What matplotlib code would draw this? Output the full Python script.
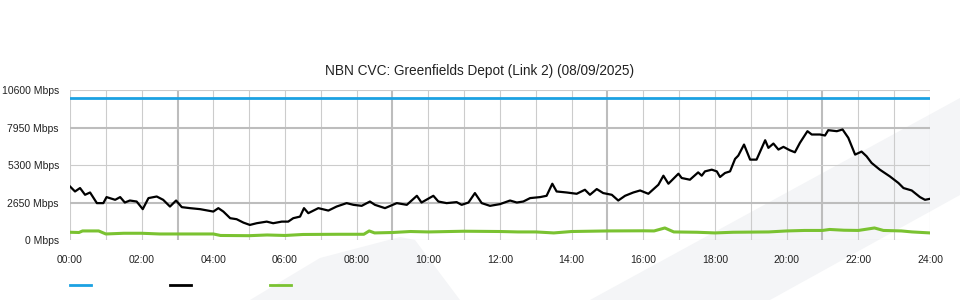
import numpy as np
import matplotlib.pyplot as plt
from matplotlib.lines import Line2D
from matplotlib.patches import Polygon

title = "NBN CVC: Greenfields Depot (Link 2) (08/09/2025)"

y_ticks = [0, 2650, 5300, 7950, 10600]
y_labels = ["0 Mbps", "2650 Mbps", "5300 Mbps", "7950 Mbps", "10600 Mbps"]
x_ticks = [0, 2, 4, 6, 8, 10, 12, 14, 16, 18, 20, 22, 24]
x_labels = ["00:00", "02:00", "04:00", "06:00", "08:00", "10:00", "12:00",
            "14:00", "16:00", "18:00", "20:00", "22:00", "24:00"]

# capacity (blue)
capacity_hours = [0, 24]
capacity_mbps = [10000, 10000]

# download traffic (black)
down_hours = [0.00, 0.14, 0.28, 0.42, 0.56, 0.75, 0.93, 1.02, 1.26, 1.40, 1.53, 1.67,
              1.86, 2.03, 2.19, 2.42, 2.60, 2.79, 2.96, 3.12, 3.35, 3.63, 4.00, 4.14,
              4.28, 4.47, 4.65, 4.84, 5.02, 5.21, 5.49, 5.67, 5.91, 6.09, 6.23, 6.42,
              6.53, 6.65, 6.93, 7.21, 7.44, 7.72, 7.91, 8.14, 8.37, 8.51, 8.79, 9.12,
              9.40, 9.68, 9.81, 10.14, 10.28, 10.51, 10.79, 10.93, 11.12, 11.30, 11.49,
              11.72, 12.00, 12.28, 12.47, 12.65, 12.84, 13.12, 13.30, 13.46, 13.58,
              13.86, 14.14, 14.37, 14.51, 14.70, 14.88, 15.12, 15.30, 15.49, 15.72,
              15.91, 16.14, 16.42, 16.56, 16.70, 16.98, 17.07, 17.30, 17.53, 17.63,
              17.72, 17.91, 18.05, 18.14, 18.28, 18.42, 18.56, 18.65, 18.81, 18.98,
              19.16, 19.40, 19.49, 19.63, 19.77, 19.91, 20.09, 20.23, 20.37, 20.58,
              20.70, 20.93, 21.07, 21.16, 21.40, 21.56, 21.72, 21.91, 22.09, 22.23,
              22.37, 22.60, 22.88, 23.12, 23.26, 23.49, 23.72, 23.86, 24.00]
down_mbps = [3784, 3429, 3671, 3195, 3358, 2606, 2606, 3032, 2840, 3032, 2648, 2790,
             2719, 2180, 2961, 3074, 2840, 2364, 2790, 2322, 2251, 2180, 2009, 2251,
             2009, 1541, 1470, 1228, 1065, 1186, 1299, 1186, 1299, 1299, 1541, 1654,
             2251, 1896, 2251, 2080, 2364, 2606, 2485, 2414, 2719, 2485, 2251, 2606,
             2485, 3124, 2648, 3124, 2719, 2606, 2677, 2485, 2648, 3316, 2606,
             2414, 2535, 2790, 2648, 2719, 2961, 3032, 3124, 3976, 3429,
             3358, 3266, 3550, 3195, 3600, 3316, 3195, 2790, 3124, 3358,
             3500, 3266, 3905, 4544, 3976, 4686, 4381, 4260, 4778, 4544,
             4849, 4970, 4849, 4452, 4736, 4849, 5730, 5964, 6745, 5680,
             5680, 7050, 6511, 6816, 6390, 6582, 6340, 6198, 6866, 7689,
             7455, 7455, 7384, 7760, 7689, 7810, 7221, 6035, 6248, 5914,
             5446, 4970, 4494, 4026, 3671, 3500, 3032, 2840, 2911]

# upload traffic (green)
up_hours = [0.0, 0.25, 0.35, 0.8, 1.0, 1.5, 2.0, 2.5, 3.5, 4.0, 4.2, 5.0, 5.5, 6.0,
            6.5, 7.5, 8.2, 8.35, 8.5, 9.0, 9.5, 10.0, 11.0, 12.0, 12.5, 13.0, 13.5,
            14.0, 15.0, 16.0, 16.3, 16.6, 16.85, 17.5, 18.0, 18.5, 19.5, 20.0, 20.5,
            21.0, 21.2, 21.6, 22.0, 22.45, 22.7, 23.2, 23.5, 24.0]
up_mbps = [547, 530, 640, 640, 426, 476, 476, 426, 426, 426, 320, 305, 355, 320,
           390, 405, 405, 640, 500, 530, 600, 570, 620, 600, 570, 570, 500,
           600, 640, 650, 640, 850, 570, 547, 500, 547, 570, 640, 675,
           675, 745, 690, 675, 850, 675, 640, 570, 500]

plt.rcParams['font.family'] = ['Liberation Sans', 'DejaVu Sans']

fig = plt.figure(figsize=(9.6, 3.0), dpi=100)
W, H = 960.0, 300.0

# light watermark stripes behind the chart
band1 = [(250, 300), (320, 258), (400, 237), (415, 240), (460, 300)]
band2 = [(590, 300), (960, 98), (960, 195), (770, 300)]
for band in (band1, band2):
    pts = [(x / W, 1 - y / H) for x, y in band]
    fig.add_artist(Polygon(pts, closed=True, transform=fig.transFigure,
                           facecolor='#f4f5f7', edgecolor='none', zorder=0))

ax = fig.add_axes([70 / W, 1 - 240 / H, 860 / W, 150 / H])
ax.set_facecolor('none')
ax.set_zorder(1)

# grid: light every hour / every level, darker every 6h from 03:00 and at 2650/7950
for h in range(25):
    dark = (h % 6 == 3)
    ax.axvline(h, color='#bdbdbd' if dark else '#cccccc', lw=1.5 if dark else 0.8, zorder=1)
for v in y_ticks:
    dark = v in (2650, 7950)
    ax.axhline(v, color='#bdbdbd' if dark else '#cccccc', lw=1.5 if dark else 0.8, zorder=1)

ax.plot(capacity_hours, capacity_mbps, color='#1ba1e2', lw=2.0, zorder=3)
ax.plot(up_hours, up_mbps, color='#7ac231', lw=2.2, zorder=3)
ax.plot(down_hours, down_mbps, color='#000000', lw=1.6, zorder=4)

ax.set_xlim(0, 24)
ax.set_ylim(0, 10600)
ax.set_xticks(x_ticks)
ax.set_xticklabels(x_labels, fontsize=7.5, color='#222222')
ax.set_yticks(y_ticks)
ax.set_yticklabels(y_labels, fontsize=7.5, color='#222222')
ax.tick_params(length=0, pad=8)
ax.tick_params(axis='x', pad=11)
for s in ax.spines.values():
    s.set_visible(False)

fig.text(0.5, 1 - 71 / H, title, ha='center', va='center', fontsize=9.8, color='#222222')

# legend swatches (no labels)
for x0, c in [(70, '#1ba1e2'), (170, '#000000'), (270, '#7ac231')]:
    fig.add_artist(Line2D([x0 / W, (x0 + 21) / W], [1 - 285 / H, 1 - 285 / H],
                          transform=fig.transFigure, color=c, lw=2.0))

fig.savefig('out.png', dpi=100)
